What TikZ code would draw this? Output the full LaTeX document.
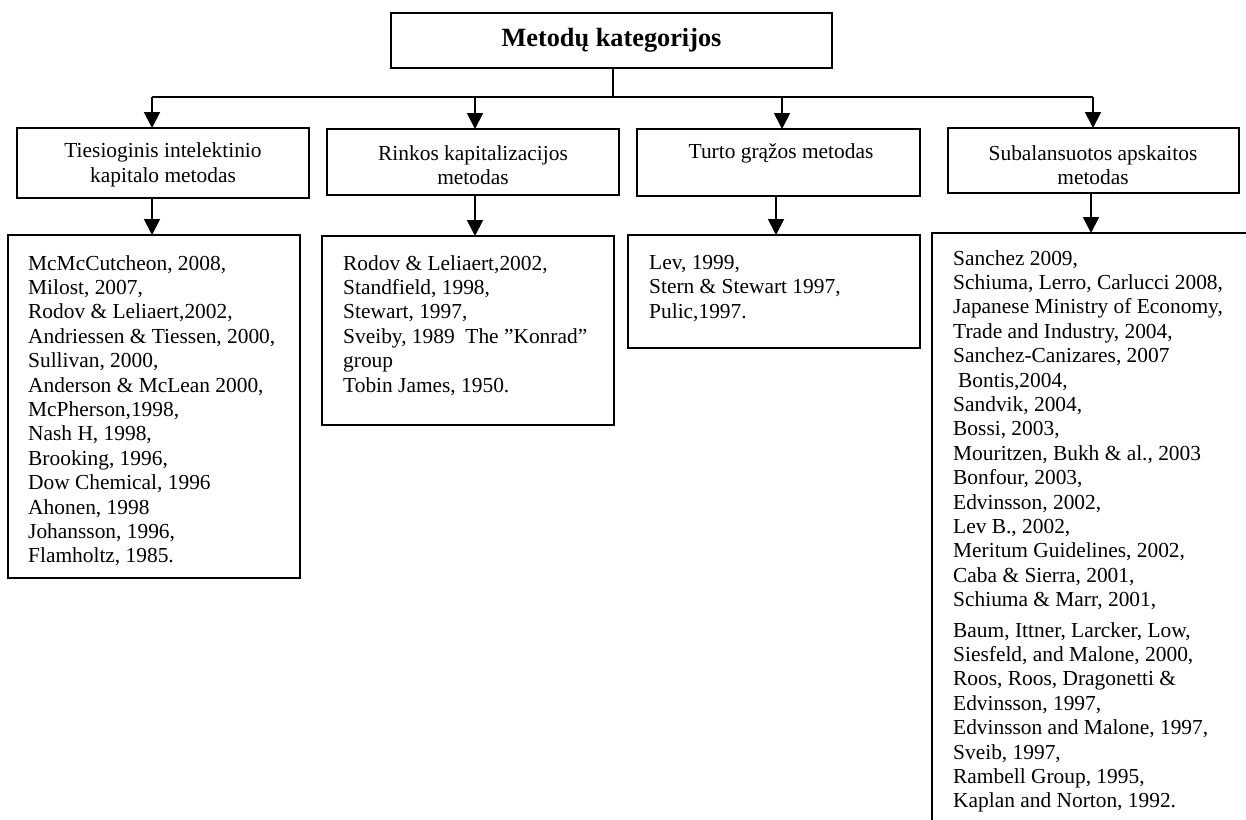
\documentclass[tikz,border=0pt]{standalone}
\usepackage{fontspec}
\setmainfont{Liberation Serif}
\usetikzlibrary{arrows.meta}
\begin{document}
\begin{tikzpicture}[x=1pt,y=-1pt,
  box/.style={draw, line width=1.9pt, anchor=north west, inner sep=0pt, outer sep=0pt},
  lst/.style={anchor=north west, inner sep=0pt, align=left, font=\fontsize{21.4}{24.4}\selectfont},
  cattext/.style={inner sep=0pt, align=center, font=\fontsize{21.4}{24.4}\selectfont},
  arr/.style={line width=1.9pt, -{Triangle[length=16pt,width=16pt]}},
  ln/.style={line width=1.9pt}]
\clip (0,0) rectangle (1246,819);
\fill[white] (0,0) rectangle (1246,819);
% title
\node[box, minimum width=441pt, minimum height=55pt, font=\bfseries\fontsize{26.3}{30}\selectfont] (top) at (391,13) {Metodų kategorijos};
% category boxes
\node[box, minimum width=292pt, minimum height=70pt] (cat1) at (17,128) {};
\node[box, minimum width=292pt, minimum height=66pt] (cat2) at (327,129) {};
\node[box, minimum width=283pt, minimum height=67pt] (cat3) at (637,129) {};
\node[box, minimum width=291pt, minimum height=65pt] (cat4) at (948,128) {};
\node[cattext] (cat1t) at (163,165) {Tiesioginis intelektinio\\kapitalo metodas};
\node[cattext] (cat2t) at (473,165) {Rinkos kapitalizacijos\\metodas};
\node[cattext] (cat3t) at (781,153) {Turto grąžos metodas};
\node[cattext] (cat4t) at (1093,165) {Subalansuotos apskaitos\\metodas};
% content boxes
\node[box, minimum width=292pt, minimum height=343pt] (c1) at (8,235) {};
\node[box, minimum width=292pt, minimum height=189pt] (c2) at (322,236) {};
\node[box, minimum width=292pt, minimum height=113pt] (c3) at (628,235) {};
\node[box, minimum width=360pt, minimum height=640pt] (c4) at (932,233) {};
% texts
\node[lst] (l1) at (28,255) {McMcCutcheon, 2008,\\Milost, 2007,\\Rodov \& Leliaert,2002,\\Andriessen \& Tiessen, 2000,\\Sullivan, 2000,\\Anderson \& McLean 2000,\\McPherson,1998,\\Nash H, 1998,\\Brooking, 1996,\\Dow Chemical, 1996\\Ahonen, 1998\\Johansson, 1996,\\Flamholtz, 1985.};
\node[lst] (l2) at (343,255) {Rodov \& Leliaert,2002,\\Standfield, 1998,\\Stewart, 1997,\\Sveiby, 1989\ \ The ”Konrad”\\group\\Tobin James, 1950.};
\node[lst] (l3) at (649,255) {Lev, 1999,\\Stern \& Stewart 1997,\\Pulic,1997.};
\node[lst] (l4) at (953,250) {Sanchez 2009,\\Schiuma, Lerro, Carlucci 2008,\\Japanese Ministry of Economy,\\Trade and Industry, 2004,\\Sanchez-Canizares, 2007\\\hspace*{5pt}Bontis,2004,\\Sandvik, 2004,\\Bossi, 2003,\\Mouritzen, Bukh \& al., 2003\\Bonfour, 2003,\\Edvinsson, 2002,\\Lev B., 2002,\\Meritum Guidelines, 2002,\\Caba \& Sierra, 2001,\\Schiuma \& Marr, 2001,\\[6pt]Baum, Ittner, Larcker, Low,\\Siesfeld, and Malone, 2000,\\Roos, Roos, Dragonetti \&\\Edvinsson, 1997,\\Edvinsson and Malone, 1997,\\Sveib, 1997,\\Rambell Group, 1995,\\Kaplan and Norton, 1992.};
% connectors
\coordinate (j) at (613,97);
\coordinate (h1) at (152,97);
\coordinate (h2) at (475,97);
\coordinate (h3) at (782,97);
\coordinate (h4) at (1093,97);
\draw[ln] (top.south -| j) -- (j);
\draw[ln] (h1) -- (h4);
\draw[arr] (h1) -- (h1 |- cat1.north);
\draw[arr] (h2) -- (h2 |- cat2.north);
\draw[arr] (h3) -- (h3 |- cat3.north);
\draw[arr] (h4) -- (h4 |- cat4.north);
\coordinate (v1) at (152,0);
\coordinate (v2) at (475,0);
\coordinate (v3) at (776,0);
\coordinate (v4) at (1091,0);
\draw[arr] (v1 |- cat1.south) -- (v1 |- c1.north);
\draw[arr] (v2 |- cat2.south) -- (v2 |- c2.north);
\draw[arr] (v3 |- cat3.south) -- (v3 |- c3.north);
\draw[arr] (v4 |- cat4.south) -- (v4 |- c4.north);
\end{tikzpicture}
\end{document}
